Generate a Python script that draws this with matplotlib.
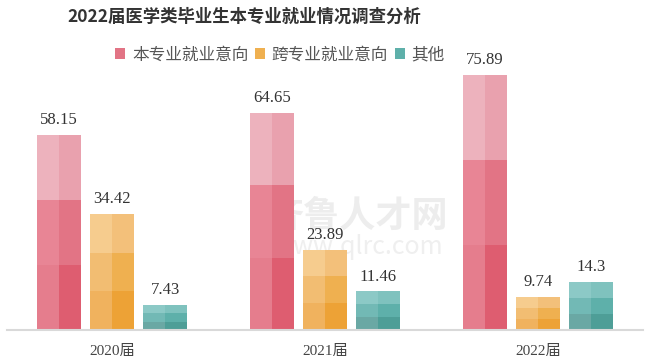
import matplotlib
matplotlib.use("Agg")
import matplotlib.pyplot as plt
from matplotlib.patches import Patch
import numpy as np

plt.rcParams['font.family'] = ['Noto Sans CJK SC', 'DejaVu Sans']

title = "2022届医学类毕业生本专业就业情况调查分析"
categories = ["2020届", "2021届", "2022届"]
series_names = ["本专业就业意向", "跨专业就业意向", "其他"]
same_major = [58.15, 64.65, 75.89]
cross_major = [34.42, 23.89, 9.74]
other = [7.43, 11.46, 14.3]
series_values = [same_major, cross_major, other]

# shades per series: [band][left/right], band 0 = bottom
shades = [
    [["#E57D8D", "#DE5D70"], ["#E88595", "#E27485"], ["#EDB2BD", "#E9A1AE"]],
    [["#F0B25E", "#EDA236"], ["#F2BD72", "#EFB050"], ["#F6CC8E", "#F3C07A"]],
    [["#6AA8A4", "#4E9E97"], ["#72B9B5", "#5EB0AA"], ["#8CC9C6", "#7FC2BE"]],
]
legend_colors = ["#E27485", "#EFB050", "#5EB0AA"]

W, H = 650, 364
fig = plt.figure(figsize=(6.5, 3.64), dpi=100)
ax = fig.add_axes([7 / W, 34 / H, 636 / W, 296 / H])

# watermark (behind the bars)
ax.text(358 / W, 1 - 216 / H, "齐鲁人才网", fontsize=26, fontweight="bold",
        color="#EDEDED", ha="center", va="center", zorder=0,
        transform=fig.transFigure)
ax.text(358 / W, 1 - 247 / H, "www.qlrc.com", fontsize=18,
        color="#EFEFEF", ha="center", va="center", zorder=0,
        transform=fig.transFigure)

x = np.arange(len(categories))
pitch = 0.249
bw = 0.2066
offsets = [-pitch, 0, pitch]

for si, vals in enumerate(series_values):
    for gi, v in enumerate(vals):
        xc = x[gi] + offsets[si]
        band = v / 3.0
        for k in range(3):
            for h in range(2):
                xh = xc - bw / 4 if h == 0 else xc + bw / 4
                ax.bar(xh, band, width=bw / 2, bottom=k * band,
                       color=shades[si][k][h], linewidth=0, zorder=2)
        ax.annotate(f"{v:g}", (xc, v), xytext=(0, 5),
                    textcoords="offset points", ha="center", va="bottom",
                    fontsize=12, color="#333333", zorder=3,
                    family=["Liberation Serif", "DejaVu Serif"])

ax.set_xlim(-0.493, 2.493)
ax.set_ylim(0, 88.1)
ax.set_xticks(x)
ax.set_xticklabels(categories, fontsize=11, color="#444444",
                   family=["Liberation Serif", "Noto Sans CJK SC"])
ax.tick_params(axis="x", length=0, pad=11)
ax.set_yticks([])
for s in ["top", "right", "left"]:
    ax.spines[s].set_visible(False)
ax.spines["bottom"].set_color("#D9D9D9")
ax.spines["bottom"].set_linewidth(1.5)
ax.spines["bottom"].set_zorder(4)
ax.set_facecolor("none")

fig.text(244 / W, 1 - 17 / H, title, fontsize=12.5, fontweight="bold",
         color="#333333", ha="center", va="center")

handles = [Patch(facecolor=c, edgecolor="none") for c in legend_colors]
fig.legend(handles, series_names, loc="center", bbox_to_anchor=(280 / W, 1 - 55 / H),
           ncol=3, frameon=False, fontsize=12, handlelength=0.6, handleheight=0.6,
           handletextpad=0.4, columnspacing=0.4, labelcolor="#555555")

fig.savefig("out.png", dpi=100, facecolor="white")
